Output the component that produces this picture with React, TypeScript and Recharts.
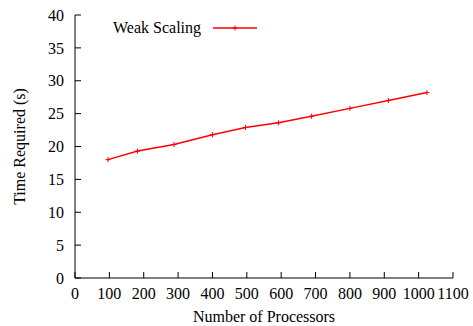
import { LineChart, Line, XAxis, YAxis, Legend } from 'recharts';

const processors = [96, 182, 288, 400, 496, 592, 688, 800, 912, 1024];
const timeRequired = [18.0, 19.3, 20.3, 21.8, 22.9, 23.6, 24.6, 25.8, 27.0, 28.2];
const xTicks = [0, 100, 200, 300, 400, 500, 600, 700, 800, 900, 1000, 1100];
const yTicks = [0, 5, 10, 15, 20, 25, 30, 35, 40];

const data = processors.map((p, i) => ({ p, t: timeRequired[i] }));

const FONT = '"Liberation Serif", "Times New Roman", serif';
const FS = 16;
const RED = '#ff0000';

const PlusDot = (props: any) => {
  const { cx, cy } = props;
  if (cx == null || cy == null) return null;
  return (
    <path
      d={`M${cx - 2.5},${cy}H${cx + 2.5}M${cx},${cy - 2.5}V${cy + 2.5}`}
      stroke={RED}
      strokeWidth={1}
    />
  );
};

const renderLegend = () => (
  <div style={{ display: 'flex', alignItems: 'center', fontFamily: FONT, fontSize: FS, color: '#000' }}>
    <span>Weak Scaling</span>
    <svg width={44} height={8} style={{ marginLeft: 12 }}>
      <line x1={0} y1={4} x2={44} y2={4} stroke={RED} strokeWidth={1.5} />
      <path d="M19.5,4H24.5M22,1.5V6.5" stroke={RED} strokeWidth={1} />
    </svg>
  </div>
);

const tickStyle = { fill: '#000', fontSize: FS, fontFamily: FONT };

export default function App() {
  return (
    <div style={{ width: 473, height: 326 }}>
      <style>{'body{margin:0}'}</style>
      <LineChart
        width={473}
        height={326}
        data={data}
        margin={{ top: 15, right: 20, bottom: 0, left: 0 }}
        style={{ fontFamily: FONT }}
      >
        <XAxis
          xAxisId="bottom"
          dataKey="p"
          type="number"
          domain={[0, 1100]}
          ticks={xTicks}
          interval={0}
          height={48}
          tickSize={-6}
          tickMargin={16}
          tick={tickStyle}
          axisLine={{ stroke: '#000' }}
          tickLine={{ stroke: '#000' }}
          label={{ value: 'Number of Processors', position: 'insideBottom', offset: 4, fill: '#000', fontSize: FS, fontFamily: FONT }}
        />
        <XAxis
          xAxisId="top"
          orientation="top"
          dataKey="p"
          type="number"
          domain={[0, 1100]}
          ticks={xTicks}
          interval={0}
          height={0}
          tickSize={-6}
          tickFormatter={() => ''}
          axisLine={{ stroke: '#000' }}
          tickLine={{ stroke: '#000' }}
        />
        <YAxis
          yAxisId="left"
          type="number"
          domain={[0, 40]}
          ticks={yTicks}
          interval={0}
          width={75}
          tickSize={-6}
          tickMargin={17}
          tick={tickStyle}
          axisLine={{ stroke: '#000' }}
          tickLine={{ stroke: '#000' }}
          label={{ value: 'Time Required (s)', angle: -90, position: 'insideLeft', offset: 19, fill: '#000', fontSize: FS, fontFamily: FONT, style: { textAnchor: 'middle' } }}
        />
        <YAxis
          yAxisId="right"
          orientation="right"
          type="number"
          domain={[0, 40]}
          ticks={yTicks}
          interval={0}
          width={0}
          tickSize={-6}
          tickFormatter={() => ''}
          axisLine={{ stroke: '#000' }}
          tickLine={{ stroke: '#000' }}
        />
        <Legend
          layout="vertical"
          align="center"
          verticalAlign="middle"
          content={renderLegend}
          wrapperStyle={{ left: 113, top: 19, width: 'auto' }}
        />
        <Line
          xAxisId="bottom"
          yAxisId="left"
          dataKey="t"
          stroke={RED}
          strokeWidth={1.5}
          dot={<PlusDot />}
          activeDot={false}
          isAnimationActive={false}
        />
      </LineChart>
    </div>
  );
}
